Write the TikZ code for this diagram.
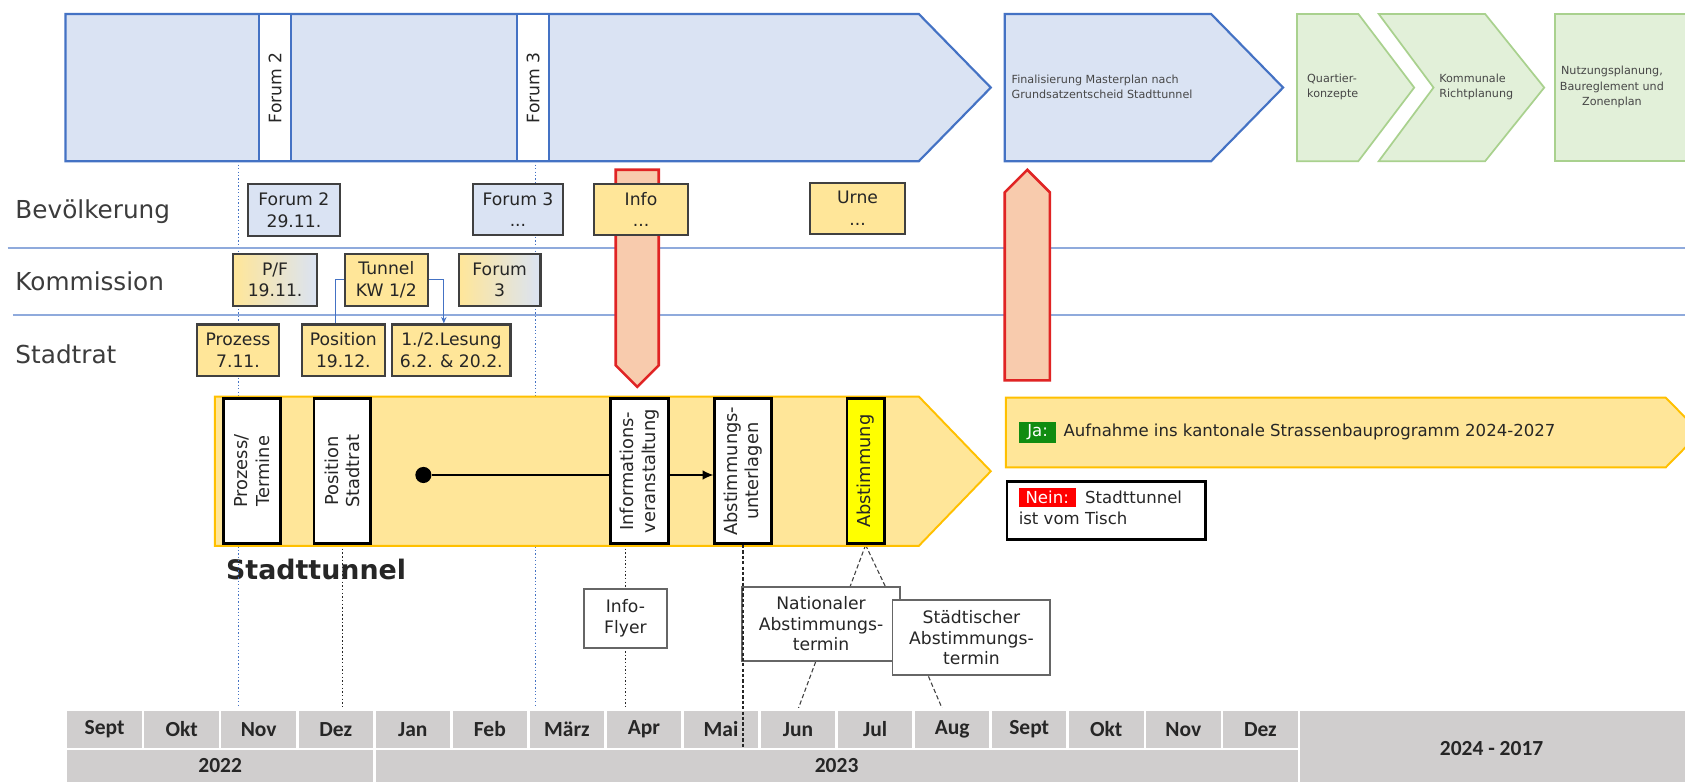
\documentclass[tikz,border=0pt]{standalone}
\usepackage{fontspec}
\setmainfont{DejaVu Sans}
\newfontfamily\calfont{Carlito}
\usetikzlibrary{arrows.meta,calc}
\pgfdeclarelayer{canvas}
\pgfdeclarelayer{back}
\pgfdeclarelayer{mid}
\pgfsetlayers{canvas,back,mid,main}
\definecolor{bluefill}{HTML}{DAE3F3}
\definecolor{blueline}{HTML}{4472C4}
\definecolor{sepline}{HTML}{8FAADC}
\definecolor{greenfill}{HTML}{E2F0D9}
\definecolor{greenline}{HTML}{A9D18E}
\definecolor{yelfill}{HTML}{FFE699}
\definecolor{yelline}{HTML}{FFC000}
\definecolor{redfill}{HTML}{F8CBAD}
\definecolor{redline}{HTML}{E02424}
\definecolor{boxline}{HTML}{404040}
\definecolor{tlgray}{HTML}{D0CECE}
\definecolor{txt}{HTML}{262626}
\definecolor{jagreen}{HTML}{118C11}
\definecolor{neinred}{HTML}{FF0000}
\definecolor{pureyellow}{HTML}{FFFF00}
\tikzset{
 bluearrow/.style={fill=bluefill, draw=blueline, line width=1pt},
 greenarrow/.style={fill=greenfill, draw=greenline, line width=0.8pt},
 redarrow/.style={fill=redfill, draw=redline, line width=1.2pt},
 yelarrow/.style={fill=yelfill, draw=yelline, line width=0.9pt},
 strip/.style={fill=white, draw=blueline, line width=1pt, inner sep=0pt, outer sep=0pt},
 striptext/.style={rotate=90, font=\fontsize{8}{10}\selectfont, text=txt, inner sep=0pt},
 toptext/.style={font=\fontsize{5.2}{7.2}\selectfont, text=txt!85, align=left, inner sep=0pt},
 rowlabel/.style={font=\fontsize{11.5}{13}\selectfont, text=txt!90, anchor=west, inner sep=0pt},
 rowbox/.style={draw=boxline, line width=1pt, align=center, font=\fontsize{8}{10}\selectfont, text=txt, inner sep=0pt},
 ybox/.style={rowbox, fill=yelfill},
 bbox/.style={rowbox, fill=bluefill},
 gbox/.style={rowbox, left color=yelfill, right color=bluefill},
 vbox/.style={draw=black, line width=1.2pt, fill=white, inner sep=0pt, minimum width=26.5pt, minimum height=67.5pt},
 vtext/.style={rotate=90, align=center, font=\fontsize{8.3}{10}\selectfont, text=txt, inner sep=0pt},
 callbox/.style={draw=boxline!80, line width=0.9pt, fill=white, align=center, font=\fontsize{8}{9.6}\selectfont, text=txt, inner sep=0pt},
 sepl/.style={draw=sepline, line width=0.7pt},
 bluedot/.style={draw=blueline, densely dotted, line width=0.6pt},
 blackdot/.style={draw=txt, densely dotted, line width=0.7pt},
 calldash/.style={draw=boxline, dash pattern=on 2pt off 1.2pt, line width=0.5pt},
 conn/.style={draw=blueline, line width=0.5pt},
 tcell/.style={fill=tlgray, draw=white, line width=1.2pt, inner sep=0pt, outer sep=0pt},
 ttext/.style={font=\calfont\bfseries\fontsize{10}{12}\selectfont, text=txt, inner sep=0pt},
 tag/.style={inner sep=0pt, text=white, font=\fontsize{7.7}{9}\selectfont},
 bodytext/.style={inner sep=0pt, text=txt, font=\fontsize{7.7}{9.6}\selectfont},
}
\begin{document}
\begin{tikzpicture}[x=0.5pt,y=-0.5pt]
\useasboundingbox (0,0) rectangle (1568,727);
\begin{pgfonlayer}{canvas}
\fill[white] (0,0) rectangle (1568,727);
\end{pgfonlayer}

% ---- top process arrows
\draw[bluearrow] (61,13) -- (855,13) -- (922,81.5) -- (855,150) -- (61,150) -- cycle;
\node[strip, minimum width=15pt, minimum height=68.5pt] (s2) at (256,81.5) {};
\node[striptext] (s2t) at (s2.center) {Forum 2};
\node[strip, minimum width=15pt, minimum height=68.5pt] (s3) at (496,81.5) {};
\node[striptext] (s3t) at (s3.center) {Forum 3};

\draw[bluearrow] (935,13) -- (1127,13) -- (1194,81.5) -- (1127,150) -- (935,150) -- cycle;
\node[toptext, anchor=west] (fin) at (941,81) {Finalisierung Masterplan nach\\Grundsatzentscheid Stadttunnel};
\draw[greenarrow] (1207,13) -- (1264,13) -- (1316,81.5) -- (1264,150) -- (1207,150) -- cycle;
\node[toptext, anchor=west] (qk) at (1216,81) {Quartier-\\konzepte};
\draw[greenarrow] (1283,13) -- (1382,13) -- (1437,81.5) -- (1382,150) -- (1283,150) -- (1334,81.5) -- cycle;
\node[toptext, anchor=west] (kr) at (1339,81) {Kommunale\\Richtplanung};
\draw[greenarrow] (1447,13) -- (1620,13) -- (1620,150) -- (1447,150) -- cycle;
\node[toptext, align=center] (nz) at (1500,81) {Nutzungsplanung,\\Baureglement und\\Zonenplan};

% ---- rows
\draw[sepl] (7,231) -- (1568,231);
\draw[sepl] (12,293) -- (1568,293);
\node[rowlabel] (lb1) at (14,197) {Bevölkerung};
\node[rowlabel] (lb2) at (14,262) {Kommission};
\node[rowlabel] (lb3) at (14,330) {Stadtrat};

\draw[redarrow] (573,158) -- (613,158) -- (613,340) -- (593,360) -- (573,340) -- cycle;
\draw[redarrow] (935,354) -- (935,179) -- (956,158) -- (977,179) -- (977,354) -- cycle;

\node[bbox, minimum width=42.5pt, minimum height=24.5pt] (f2) at (273.5,195.5) {Forum 2\\29.11.};
\node[bbox, minimum width=42pt, minimum height=24pt] (f3) at (482,195) {Forum 3\\...};
\node[ybox, minimum width=43.5pt, minimum height=24pt] (inf) at (596.5,195) {Info\\...};
\node[ybox, minimum width=44pt, minimum height=24pt] (urne) at (798,194) {Urne\\...};
\node[gbox, minimum width=39pt, minimum height=24.5pt] (pf) at (256,260.5) {P/F\\19.11.};
\node[ybox, minimum width=38.5pt, minimum height=24.5pt] (tun) at (359.5,260.5) {Tunnel\\KW 1/2};
\node[gbox, minimum width=38pt, minimum height=24.5pt] (f3k) at (465,260.5) {Forum\\3};
\node[ybox, minimum width=38.5pt, minimum height=24pt] (proz) at (221.5,326) {Prozess\\7.11.};
\node[ybox, minimum width=38.5pt, minimum height=24pt] (pos) at (319.5,326) {Position\\19.12.};
\node[ybox, minimum width=55pt, minimum height=24pt] (les) at (420,326) {1./2.Lesung\\6.2. \& 20.2.};

\draw[conn] (tun.west) -- ++(-8,0) coordinate (tw) -- (tw |- pos.north);
\draw[conn, -{Stealth[length=3pt,width=2.5pt]}] (tun.east) -- ++(14,0) coordinate (te) -- (te |- les.north);

% ---- Stadttunnel arrow
\begin{pgfonlayer}{mid}
\draw[yelarrow] (200,369) -- (855,369) -- (922,438.5) -- (855,508) -- (200,508) -- cycle;
\node[circle, fill=black, inner sep=0pt, minimum size=7.5pt] (dot) at (394,442) {};
\end{pgfonlayer}
\node[vbox] (vpt) at (234.5,438.5) {};
\node[vtext] (vptt) at (vpt.center) {Prozess/\\Termine};
\node[vbox] (vps) at (318.5,438.5) {};
\node[vtext] (vpst) at (vps.center) {Position\\Stadtrat};
\node[vbox, minimum width=27pt] (viv) at (595,438.5) {};
\node[vtext] (vivt) at (viv.center) {Informations-\\veranstaltung};
\node[vbox] (vau) at (691.5,438.5) {};
\node[vtext] (vaut) at (vau.center) {Abstimmungs-\\unterlagen};
\node[vbox, fill=pureyellow, minimum width=17.5pt] (vab) at (805.5,438.5) {};
\node[vtext] (vabt) at (vab.center) {Abstimmung};
\begin{pgfonlayer}{mid}
\draw[line width=0.6pt, -{Latex[length=5pt,width=4.5pt]}] (dot) -- (dot -| vau.west);
\end{pgfonlayer}

% ---- outcomes
\draw[yelarrow] (936,370) -- (1550,370) -- (1582,402.5) -- (1550,435) -- (936,435) -- cycle;
\node[tag, fill=jagreen, minimum width=17.5pt, minimum height=9.5pt] (ja) at (965.5,402.5) {Ja:};
\node[bodytext, anchor=base west] (jat) at ([xshift=3pt]ja.base east) {Aufnahme ins kantonale Strassenbauprogramm 2024-2027};
\node[draw=black, line width=1.2pt, fill=white, minimum width=92.5pt, minimum height=27pt, inner sep=0pt] (nein) at (1029.5,475) {};
\node[tag, fill=neinred, minimum width=26.5pt, minimum height=9pt] (ntag) at (974.5,463) {Nein:};
\node[bodytext, anchor=base west] (nt1) at ([xshift=4pt]ntag.base east) {Stadttunnel};
\node[bodytext, anchor=base west] (nt2) at ([yshift=-9.6pt]ntag.base west) {ist vom Tisch};

% ---- callouts
\node[callbox, minimum width=38.5pt, minimum height=27.5pt] (fly) at (582,575.5) {Info-\\Flyer};
\node[callbox, minimum width=73.5pt, minimum height=34.5pt] (nat) at (764,580.5) {Nationaler\\Abstimmungs-\\termin};
\node[callbox, minimum width=73.5pt, minimum height=35pt] (sta) at (904,593.5) {Städtischer\\Abstimmungs-\\termin};

% ---- timeline
\foreach \lab [count=\i from 0] in {Sept,Okt,Nov,Dez,Jan,Feb,März,Apr,Mai,Jun,Jul,Aug,Sept,Okt,Nov,Dez}
  \node[tcell, ttext, minimum width=35.85pt, minimum height=18.5pt] (m\i) at ({61.5+(\i+0.5)*71.7},678.5) {\lab};
\node[tcell, minimum width=143.4pt, minimum height=20pt] (y22) at (204.9,717) {};
\node[ttext] (y22t) at (204.9,712) {2022};
\node[tcell, minimum width=430.2pt, minimum height=20pt] (y23) at (778.5,717) {};
\node[ttext] (y23t) at (778.5,712) {2023};
\node[tcell, minimum width=205.65pt, minimum height=40pt] (yr) at (1414.35,700) {};
\node[ttext] (yrt) at (1388,697) {2024 - 2017};

\draw[draw=txt, dash pattern=on 1.5pt off 1pt, line width=0.7pt] (vau.south) -- (vau.south |- m8.south);

% ---- background guide lines
\begin{pgfonlayer}{back}
\node[font=\bfseries\fontsize{12.5}{14}\selectfont, text=txt, anchor=west, inner sep=0pt] (stl) at (210,530) {Stadttunnel};
\coordinate (bd1t) at (222,150);
\coordinate (bd2t) at (498,150);
\draw[bluedot] (bd1t) -- (bd1t |- m2.north);
\draw[bluedot] (bd2t) -- (bd2t |- m6.north);
\draw[blackdot] (vps.south) -- (vps.south |- m3.north);
\draw[blackdot] (fly.center |- viv.south) -- (fly.center |- m7.north);
\coordinate (na1) at (791,546);
\coordinate (na2) at (824,546);
\draw[calldash] (vab.south) -- (na1);
\draw[calldash] (vab.south) -- (na2);
\draw[calldash] ($(nat.south)+(-5,0)$) -- (m9.north);
\draw[calldash] ($(sta.south)+(-40,0)$) -- ($(m11.north)+(-9,0)$);
\end{pgfonlayer}
\end{tikzpicture}
\end{document}
